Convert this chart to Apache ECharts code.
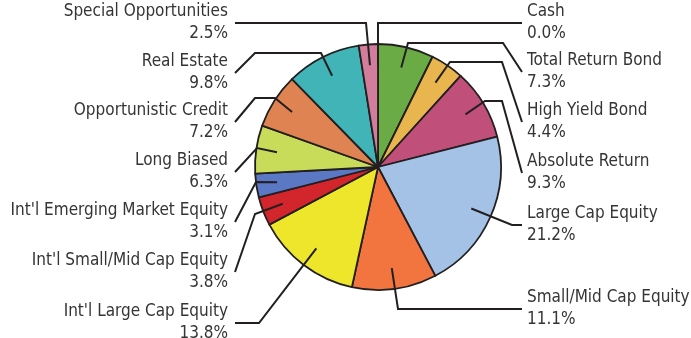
<!DOCTYPE html>
<html>
<head>
<meta charset="utf-8">
<script src="https://cdn.jsdelivr.net/npm/echarts@6/dist/echarts.min.js"></script>
<style>
  html, body { margin: 0; padding: 0; background: #ffffff; }
  #chart { width: 691px; height: 338px; }
</style>
</head>
<body>
<div id="chart"></div>
<script>
// Asset allocation, clockwise from 12 o'clock
const categories = [
  'Cash',
  'Total Return Bond',
  'High Yield Bond',
  'Absolute Return',
  'Large Cap Equity',
  'Small/Mid Cap Equity',
  "Int'l Large Cap Equity",
  "Int'l Small/Mid Cap Equity",
  "Int'l Emerging Market Equity",
  'Long Biased',
  'Opportunistic Credit',
  'Real Estate',
  'Special Opportunities'
];
const weights = [0.0, 7.3, 4.4, 9.3, 21.2, 11.1, 13.8, 3.8, 3.1, 6.3, 7.2, 9.8, 2.5];

const sliceColors = [
  '#8c8c8c', '#6aab46', '#e8b54e', '#c0507a', '#a4c2e5', '#f27540', '#eee62a',
  '#d3262c', '#5b78c4', '#c8dc5a', '#df8352', '#41b4b8', '#d27d9c'
];

// Pie geometry
const PIE_CENTER = [378, 167];
const PIE_RADIUS = 123;
const LEADER_DEPTH = 0.83; // leader lines start this far out along each slice's bisector

// Callout placement: label anchor and the bends of each leader line
const LABEL_X_RIGHT = 527, LINE_END_RIGHT = 522;
const LABEL_X_LEFT = 228, LINE_END_LEFT = 235;
const leaderRoutes = [
  { side: 'right', y: 23,  via: [[378, 23]] },
  { side: 'right', y: 72,  via: [[408, 43], [503, 43]] },
  { side: 'right', y: 122, via: [[450, 62], [502, 62]] },
  { side: 'right', y: 173, via: [[485, 101], [502, 101]] },
  { side: 'right', y: 225, via: [[512, 225]] },
  { side: 'right', y: 309, via: [[398, 309]] },
  { side: 'left',  y: 323, via: [[259, 323]] },
  { side: 'left',  y: 272, via: [[255, 214]] },
  { side: 'left',  y: 222, via: [[256, 182]] },
  { side: 'left',  y: 172, via: [[257, 148]] },
  { side: 'left',  y: 122, via: [[275, 98], [255, 98]] },
  { side: 'left',  y: 73,  via: [[321, 53], [255, 53]] },
  { side: 'left',  y: 23,  via: [[366, 23]] }
];

const INK = '#231f20';
const FONT = '"DejaVu Sans Condensed", "Liberation Sans", sans-serif';

const chart = echarts.init(document.getElementById('chart'), null, { renderer: 'canvas' });

const baseSeries = {
  type: 'pie',
  center: PIE_CENTER,
  radius: PIE_RADIUS,
  startAngle: 90,
  clockwise: true,
  avoidLabelOverlap: false,
  stillShowZeroSum: true,
  minShowLabelAngle: 0,
  silent: true,
  emphasis: { disabled: true }
};

// Leader line: from inside the slice, through its bends, to the label
function leaderLayout(params) {
  const route = leaderRoutes[params.dataIndex];
  const right = route.side === 'right';
  const edge = params.labelLinePoints[0];
  const dx = edge[0] - PIE_CENTER[0];
  const dy = edge[1] - PIE_CENTER[1];
  const len = Math.sqrt(dx * dx + dy * dy) || 1;
  const k = (LEADER_DEPTH * PIE_RADIUS) / len;
  const start = [PIE_CENTER[0] + dx * k, PIE_CENTER[1] + dy * k];
  const end = [right ? LINE_END_RIGHT : LINE_END_LEFT, route.y];
  return {
    x: right ? LABEL_X_RIGHT : LABEL_X_LEFT,
    y: route.y,
    align: right ? 'left' : 'right',
    verticalAlign: 'middle',
    labelLinePoints: [start].concat(route.via, [end])
  };
}

chart.setOption({
  animation: false,
  backgroundColor: '#ffffff',
  series: [
    // Filled slices
    Object.assign({}, baseSeries, {
      z: 2,
      itemStyle: { borderColor: INK, borderWidth: 1.8 },
      label: { show: false },
      labelLine: { show: false },
      data: categories.map((name, i) => ({
        name: name,
        value: weights[i],
        itemStyle: { color: sliceColors[i] }
      }))
    }),
    // Transparent twin carrying the callouts, drawn above the slices
    Object.assign({}, baseSeries, {
      z: 5,
      itemStyle: { color: 'rgba(0,0,0,0)', borderWidth: 0 },
      data: categories.map((name, i) => ({ name: name, value: weights[i] })),
      label: {
        show: true,
        position: 'outside',
        fontFamily: FONT,
        fontSize: 17,
        lineHeight: 22,
        color: '#353535',
        formatter: p => p.name + '\n' + Number(p.value).toFixed(1) + '%'
      },
      labelLine: {
        show: true,
        showAbove: true,
        length: 10,
        length2: 10,
        lineStyle: { color: INK, width: 2 }
      },
      labelLayout: leaderLayout
    })
  ]
});
</script>
</body>
</html>
